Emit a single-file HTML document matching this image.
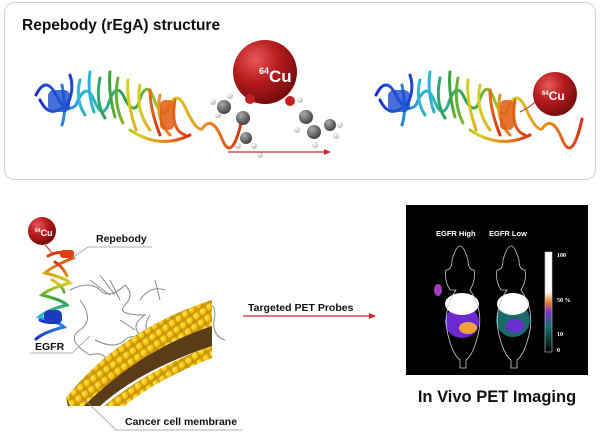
<!DOCTYPE html>
<html><head><meta charset="utf-8"><style>
body{margin:0;width:600px;height:436px;background:#fff;overflow:hidden;font-family:"Liberation Sans",Arial,sans-serif}
svg{position:absolute;left:0;top:0}
</style></head><body>
<svg width="600" height="436" viewBox="0 0 600 436">
<defs>
<radialGradient id="cu" cx="35%" cy="30%" r="70%"><stop offset="0" stop-color="#e85a5a"/><stop offset="0.5" stop-color="#b81c1f"/><stop offset="1" stop-color="#7a0c0e"/></radialGradient>
<radialGradient id="yb" cx="35%" cy="30%" r="70%"><stop offset="0" stop-color="#ffe65a"/><stop offset="0.7" stop-color="#f2b800"/><stop offset="1" stop-color="#b88400"/></radialGradient>
<radialGradient id="gb" cx="35%" cy="30%" r="70%"><stop offset="0" stop-color="#aaa"/><stop offset="1" stop-color="#444"/></radialGradient>
<radialGradient id="wb" cx="35%" cy="30%" r="70%"><stop offset="0" stop-color="#fff"/><stop offset="1" stop-color="#bbb"/></radialGradient>
<linearGradient id="rain" x1="0" x2="1"><stop offset="0" stop-color="#1a2ccf"/><stop offset="0.25" stop-color="#30b8d8"/><stop offset="0.45" stop-color="#30a040"/><stop offset="0.65" stop-color="#d8d020"/><stop offset="0.85" stop-color="#e88020"/><stop offset="1" stop-color="#d83010"/></linearGradient>
<linearGradient id="rainv" x1="0" y1="1" x2="0" y2="0"><stop offset="0" stop-color="#1a2ccf"/><stop offset="0.25" stop-color="#30b8d8"/><stop offset="0.45" stop-color="#30a040"/><stop offset="0.65" stop-color="#d8d020"/><stop offset="1" stop-color="#d83010"/></linearGradient>
<linearGradient id="scale" x1="0" y1="0" x2="0" y2="1"><stop offset="0" stop-color="#fff"/><stop offset="0.4" stop-color="#fff"/><stop offset="0.5" stop-color="#f08020"/><stop offset="0.6" stop-color="#8030d0"/><stop offset="0.75" stop-color="#107070"/><stop offset="1" stop-color="#000"/></linearGradient>
<pattern id="balls" width="8" height="8" patternUnits="userSpaceOnUse" patternTransform="rotate(-35)"><rect width="8" height="8" fill="#c89a10"/><circle cx="4" cy="4" r="3.9" fill="url(#yb)"/></pattern>
</defs>
<rect x="4.5" y="2.5" width="591" height="177" rx="10" fill="#fff" stroke="#d0d0d0"/>
<text x="22" y="30" font-size="15.5" font-weight="bold" fill="#111">Repebody (rEgA) structure</text>
<!-- protein 1 -->
<g fill="none" stroke="url(#rain)" stroke-width="3" stroke-linecap="round">
<path d="M36 95 q10-20 20 0 t20 10 q10-25 18-5 t14 5 q8-25 16-8 t14 8 q8-28 16-6 t14 10 q8-22 18 0 t16 20 q10-15 20 10 t20-20"/>
<path d="M40 100 q10 20 25 5 M62 85 q5 25 0 40 M80 80 q-5 20 5 35 M100 78 q-5 25 5 40 M118 78 q-5 25 5 45 M140 85 q-5 25 10 45 M160 95 q-5 25 10 40 M175 100 q-5 30 10 35 M130 130 q30 20 60 5"/>
<path d="M70 75 q5 15-3 30 M90 72 q-3 20 4 40 M110 72 q-2 20 5 45 M128 80 q-2 20 8 50 M150 90 q0 20 10 45"/>
</g>
<rect x="48" y="90" width="22" height="22" rx="6" fill="#1a4bd0" opacity=".8"/>
<rect x="160" y="100" width="14" height="30" rx="5" fill="#e05a10" opacity=".85"/>
<!-- molecule -->
<g>
<circle cx="224" cy="107" r="7" fill="url(#gb)"/><circle cx="243" cy="118" r="7" fill="url(#gb)"/><circle cx="246" cy="138" r="6" fill="url(#gb)"/><circle cx="306" cy="117" r="7" fill="url(#gb)"/><circle cx="314" cy="132" r="7" fill="url(#gb)"/><circle cx="330" cy="125" r="6" fill="url(#gb)"/>
<g fill="url(#wb)"><circle cx="213" cy="102" r="3"/><circle cx="218" cy="115" r="3"/><circle cx="238" cy="146" r="3"/><circle cx="254" cy="146" r="3"/><circle cx="260" cy="155" r="3"/><circle cx="297" cy="130" r="3"/><circle cx="315" cy="145" r="3"/><circle cx="336" cy="136" r="3"/><circle cx="340" cy="125" r="3"/><circle cx="300" cy="100" r="3"/><circle cx="230" cy="96" r="3"/><circle cx="252" cy="95" r="3"/></g>
<circle cx="265" cy="72" r="32" fill="url(#cu)"/>
<circle cx="250" cy="99" r="5" fill="#c02020"/><circle cx="290" cy="101" r="5" fill="#c02020"/>
<text x="259" y="82" font-size="17" font-weight="bold" fill="#fff"><tspan font-size="9" dy="-8">64</tspan><tspan dy="8">Cu</tspan></text>
</g>
<line x1="228" y1="152" x2="325" y2="152" stroke="#d02828" stroke-width="1.2"/><path d="M324 149 L331 152 L324 155Z" fill="#d02828"/>
<!-- protein 2 -->
<g transform="translate(340,0)">
<g fill="none" stroke="url(#rain)" stroke-width="3" stroke-linecap="round">
<path d="M36 95 q10-20 20 0 t20 10 q10-25 18-5 t14 5 q8-25 16-8 t14 8 q8-28 16-6 t14 10 q8-22 18 0 t16 20 q10-15 20 10 t20-20"/>
<path d="M40 100 q10 20 25 5 M62 85 q5 25 0 40 M80 80 q-5 20 5 35 M100 78 q-5 25 5 40 M118 78 q-5 25 5 45 M140 85 q-5 25 10 45 M160 95 q-5 25 10 40 M175 100 q-5 30 10 35 M130 130 q30 20 60 5"/>
<path d="M70 75 q5 15-3 30 M90 72 q-3 20 4 40 M110 72 q-2 20 5 45 M128 80 q-2 20 8 50 M150 90 q0 20 10 45"/>
</g>
<rect x="48" y="90" width="22" height="22" rx="6" fill="#1a4bd0" opacity=".8"/>
<rect x="160" y="100" width="14" height="30" rx="5" fill="#e05a10" opacity=".85"/>
</g>
<path d="M520 112 q10-5 15-10" stroke="#c03030" fill="none"/>
<circle cx="555" cy="94" r="22" fill="url(#cu)"/>
<text x="542" y="100" font-size="12" font-weight="bold" fill="#fff"><tspan font-size="6" dy="-5">64</tspan><tspan dy="5">Cu</tspan></text>
<!-- EGFR -->
<g fill="none" stroke="#888" stroke-width="1">
<path d="M70 290 q20-10 30 0 t25-5 q10 10 0 20 t20 10 q-15 10-5 20 t20 10 q10-10 20-5 t15-15 q-10-15 5-20 t15 10 q-5 20 10 25 M80 300 q15 20 0 30 t10 25 q15-5 20 10 M95 340 q20 10 30 0 t25 10 M140 300 q10-15 25-10 M150 315 q-10 15 5 25"/>
<path d="M90 280 l20 15 M100 275 l15 20 M110 280 l10 20 M120 320 l15 10 M150 330 l20 10 M155 280 l5 20"/>
</g>
<!-- membrane -->
<path d="M66 398 Q120 330 212 300 L212 346 Q140 370 100 406 L68 406Z" fill="#5a3c18"/>
<path d="M66 398 Q120 330 212 300 L212 326 Q140 350 84 406 L70 406Z" fill="url(#balls)"/>
<path d="M104 406 Q150 368 212 346 L212 358 Q160 378 124 406Z" fill="url(#balls)"/>
<!-- repebody bottom -->
<g fill="none" stroke="url(#rainv)" stroke-width="3" stroke-linecap="round">
<path d="M48 256 q15-8 25 2 q-20 8-28 15 q20 5 25 10 q-20 5-28 12 q20 5 25 10 q-20 5-28 12 q20 5 25 10 q-20 5-28 12"/>
<path d="M40 320 q10 5 20-2 M55 262 q8 5 12 14 M52 280 q10 5 12 12"/>
</g>
<rect x="44" y="310" width="18" height="14" rx="5" fill="#1a3bc0"/>
<rect x="60" y="250" width="14" height="8" rx="3" fill="#e04010"/>
<path d="M45 245 q5 5 8 10" stroke="#c03030" fill="none"/>
<circle cx="42" cy="231" r="14" fill="url(#cu)"/>
<text x="35" y="236" font-size="9" font-weight="bold" fill="#fff"><tspan font-size="5" dy="-4">64</tspan><tspan dy="4">Cu</tspan></text>
<!-- callouts -->
<g stroke="#999" fill="none" stroke-width="0.8">
<path d="M72 258 L88 247 L152 247"/><path d="M30 353 L72 353 L90 336"/><path d="M85 400 L116 430 L243 430"/>
</g>
<text x="96" y="242" font-size="10.5" font-weight="bold" fill="#111">Repebody</text>
<text x="35" y="350" font-size="10.5" font-weight="bold" fill="#111">EGFR</text>
<text x="125" y="425" font-size="10.5" font-weight="bold" fill="#111">Cancer cell membrane</text>
<text x="248" y="311" font-size="10.5" font-weight="bold" fill="#111">Targeted PET Probes</text>
<line x1="243" y1="316" x2="370" y2="316" stroke="#d02828" stroke-width="1.2"/><path d="M369 313 L376 316 L369 319Z" fill="#d02828"/>
<!-- PET -->
<rect x="406" y="205" width="182" height="170" fill="#000"/>
<text x="436" y="236" font-size="7.5" font-weight="bold" fill="#fff">EGFR High</text>
<text x="489" y="236" font-size="7.5" font-weight="bold" fill="#fff">EGFR Low</text>
<ellipse cx="462" cy="322" rx="17" ry="16" fill="#6a2ad0"/><ellipse cx="462" cy="304" rx="17" ry="11" fill="#fff"/><ellipse cx="468" cy="328" rx="9" ry="6" fill="#f0a040"/><ellipse cx="438" cy="290" rx="4" ry="6" fill="#a040c0"/>
<ellipse cx="513" cy="320" rx="17" ry="17" fill="#1a6a6a"/><ellipse cx="513" cy="304" rx="16" ry="11" fill="#fff"/><ellipse cx="515" cy="326" rx="9" ry="7" fill="#6a30d0"/>
<g fill="none" stroke="#ccc" stroke-width="0.8">
<path d="M456 290 q-14 20-8 45 q5 20 12 25 l0 8 l6 0 l0-8 q7-5 12-25 q6-25-8-45 q6-10 4-20 q-6 0-6-10 q-4-14-8-14 q-4 0-8 14 q0 10-6 10 q-2 10 4 20z"/>
<path d="M507 290 q-14 20-8 45 q5 20 12 25 l0 8 l6 0 l0-8 q7-5 12-25 q6-25-8-45 q6-10 4-20 q-6 0-6-10 q-4-14-8-14 q-4 0-8 14 q0 10-6 10 q-2 10 4 20z"/>
</g>
<rect x="545" y="252" width="7" height="100" fill="url(#scale)" stroke="#ccc" stroke-width=".6"/>
<g font-family="Liberation Serif,serif" font-size="6" fill="#fff" font-weight="bold"><text x="557" y="257">100</text><text x="557" y="302">50 %</text><text x="557" y="336">10</text><text x="557" y="352">0</text></g>
<text x="497" y="402" font-size="16.5" font-weight="bold" fill="#111" text-anchor="middle">In Vivo PET Imaging</text>
</svg>
</body></html>
